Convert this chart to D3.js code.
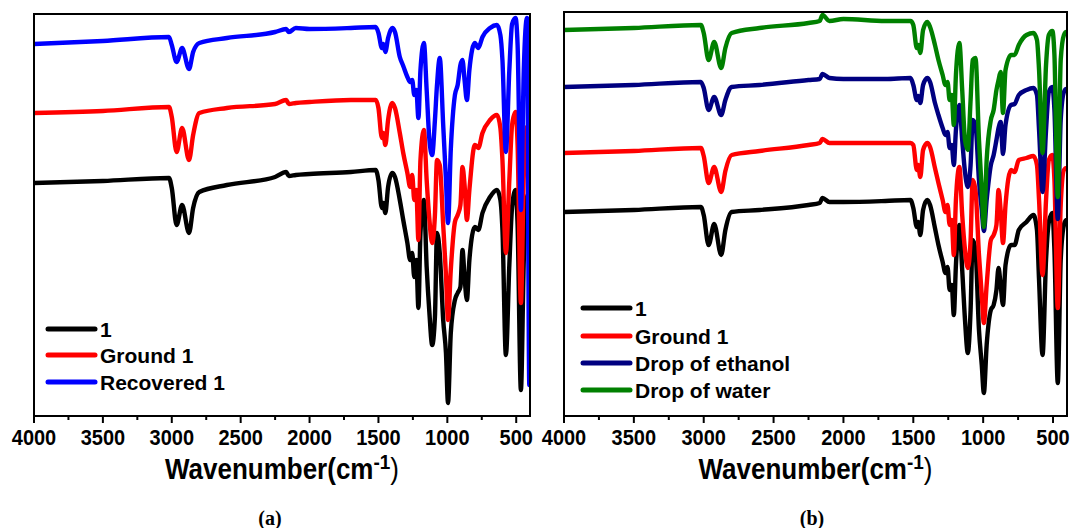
<!DOCTYPE html>
<html>
<head>
<meta charset="utf-8">
<script src="https://cdn.jsdelivr.net/npm/d3@7"></script>
<style>
  html, body { margin: 0; padding: 0; background: #fff; }
  svg { display: block; }
</style>
</head>
<body>
<svg id="chart" width="1075" height="528"></svg>
<script>
// ---- Data (wavenumber grid shared by all spectra, cm^-1) ----
const wavenumbers = [4000,3500,3020,3000,2965,2925,2875,2845,2800,2600,2250,2170,2150,2100,2000,1700,1520,1500,1475,1465,1450,1430,1400,1380,1345,1320,1290,1270,1255,1240,1225,1210,1195,1170,1150,1130,1110,1090,1075,1055,1030,1010,995,975,945,925,905,890,875,858,840,800,775,745,690,640,615,600,575,550,530,505,490,466,445,422,405,400];

// Panel (a) transmittance, stacked (a.u.)
const a_compound1 = [233,235,238,228,191,211,183,208,224,231,239,244,240,241,242,244,246,236,208,213,203,229,243,239,216,196,173,156,163,139,156,108,183,216,149,103,71,99,183,163,96,63,13,83,116,123,129,166,139,116,156,189,186,203,219,226,216,186,61,151,209,226,191,26,156,219,223,223];
const a_ground1 = [303,305,309,299,264,288,256,281,303,308,312,316,312,313,314,316,316,308,278,283,271,296,313,308,283,263,243,229,241,216,226,176,256,286,236,196,173,201,256,251,191,141,96,146,194,201,211,249,231,196,226,271,268,283,296,301,288,256,163,236,291,304,271,113,241,289,291,291];
const a_recovered1 = [372,375,379,371,354,368,347,364,373,378,384,387,384,388,387,388,389,383,368,372,364,378,388,384,359,350,339,334,336,321,326,298,346,373,326,276,261,296,331,358,291,236,193,266,321,331,351,356,336,316,346,373,368,379,388,391,381,356,264,346,392,398,371,206,346,398,31,31];

// Panel (b) transmittance, stacked (a.u.)
const b_compound1 = [204,206,209,201,171,192,161,186,204,206,211,213,218,214,214,215,216,208,189,194,181,206,216,211,188,171,154,143,149,126,131,101,151,191,146,96,63,106,176,166,86,51,23,71,106,111,126,148,131,111,151,171,171,186,194,201,186,136,61,156,194,203,166,33,156,191,196,196];
const b_ground1 = [263,265,268,260,233,249,224,245,261,265,271,273,277,273,273,273,273,271,246,251,239,266,273,269,248,233,216,204,211,191,196,161,216,249,201,166,148,176,236,226,161,121,93,131,176,181,191,226,206,173,211,246,244,256,258,260,251,216,141,216,256,261,236,108,211,246,248,248];
const b_ethanol = [329,331,334,328,306,319,301,316,329,331,336,337,342,338,337,337,338,331,316,320,313,331,338,334,313,301,288,281,284,268,271,251,286,311,276,244,229,251,296,291,236,206,185,216,251,261,276,288,294,262,291,311,312,321,326,328,321,286,224,286,324,329,306,197,296,324,327,327];
const b_water = [386,388,391,383,356,374,348,368,383,388,393,395,401,395,397,395,395,391,368,371,363,386,394,389,371,356,341,331,334,316,321,291,341,373,326,276,266,316,356,358,276,226,189,256,296,306,326,336,344,303,346,361,361,371,381,383,376,346,263,351,381,385,361,219,356,381,384,384];

const majorTicks = [4000,3500,3000,2500,2000,1500,1000,500];
const minorTicks = [3750,3250,2750,2250,1750,1250,750];
const legendA = ["1","Ground 1","Recovered 1"];
const legendB = ["1","Ground 1","Drop of ethanol","Drop of water"];
const axisTitle = "Wavenumber(cm";
const panelLabels = ["(a)","(b)"];

// ---- Layout / styles ----
const svg = d3.select("#chart");
const panels = [
  { x0:34, x1:530, y0:14, y1:416, yMax:402,
    series:[a_compound1,a_ground1,a_recovered1],
    colors:["#000000","#ff0000","#0000ff"],
    legend:legendA, legX:48, legY:[329,355,382], label:panelLabels[0], labelX:270 },
  { x0:564, x1:1067, y0:12, y1:416, yMax:404,
    series:[b_compound1,b_ground1,b_ethanol,b_water],
    colors:["#000000","#ff0000","#000080","#008000"],
    legend:legendB, legX:583, legY:[308,336,363,390], label:panelLabels[1], labelX:812 }
];

const sans = "'Liberation Sans', Arial, sans-serif";

panels.forEach((p, pi) => {
  const x = d3.scaleLinear().domain([4000,400]).range([p.x0,p.x1]);
  const y = d3.scaleLinear().domain([0,p.yMax]).range([p.y1,p.y0]);
  const g = svg.append("g");

  const clipId = "clip" + pi;
  svg.append("clipPath").attr("id", clipId)
    .append("rect").attr("x", p.x0).attr("y", p.y0)
    .attr("width", p.x1 - p.x0).attr("height", p.y1 - p.y0);

  const line = d3.line()
    .x((d,i) => x(wavenumbers[i]))
    .y(d => y(d))
    .curve(d3.curveMonotoneX);

  const traces = g.append("g").attr("clip-path", `url(#${clipId})`);
  p.series.forEach((s, si) => {
    traces.append("path")
      .attr("d", line(s))
      .attr("fill", "none")
      .attr("stroke", p.colors[si])
      .attr("stroke-width", 4.4)
      .attr("stroke-linejoin", "round")
      .attr("stroke-linecap", "round");
  });

  // frame
  g.append("rect")
    .attr("x", p.x0).attr("y", p.y0)
    .attr("width", p.x1 - p.x0).attr("height", p.y1 - p.y0)
    .attr("fill", "none").attr("stroke", "#000").attr("stroke-width", 2);

  // bottom axis
  const axis = g.append("g").attr("transform", `translate(0,${p.y1})`);
  axis.selectAll("line.major").data(majorTicks).join("line")
    .attr("x1", d => x(d)).attr("x2", d => x(d))
    .attr("y1", 0).attr("y2", 7)
    .attr("stroke", "#000").attr("stroke-width", 2);
  axis.selectAll("line.minor").data(minorTicks).join("line")
    .attr("x1", d => x(d)).attr("x2", d => x(d))
    .attr("y1", 0).attr("y2", 4)
    .attr("stroke", "#000").attr("stroke-width", 2);
  axis.selectAll("text").data(majorTicks).join("text")
    .attr("transform", d => `translate(${x(d)},28.5) scale(1,1.1)`)
    .attr("text-anchor", "middle")
    .attr("font-family", sans)
    .attr("font-weight", "bold").attr("font-size", 20)
    .text(d => d);

  // axis title
  const t = g.append("text")
    .attr("transform", `translate(${(p.x0 + p.x1) / 2},479) scale(1,1.1)`)
    .attr("text-anchor", "middle")
    .attr("font-family", sans)
    .attr("font-weight", "bold").attr("font-size", 26);
  t.append("tspan").text(axisTitle);
  t.append("tspan").attr("dy", -9).attr("font-size", 19).text("-1");
  t.append("tspan").attr("dy", 9).attr("font-weight", "normal").text(")");

  // legend
  const lg = g.append("g");
  p.legend.forEach((name, li) => {
    lg.append("line")
      .attr("x1", p.legX).attr("x2", p.legX + 47)
      .attr("y1", p.legY[li]).attr("y2", p.legY[li])
      .attr("stroke", p.colors[li]).attr("stroke-width", 5)
      .attr("stroke-linecap", "round");
    lg.append("text")
      .attr("x", p.legX + 52).attr("y", p.legY[li] + 7.5)
      .attr("font-family", sans)
      .attr("font-weight", "bold").attr("font-size", 21)
      .text(name);
  });

  // panel label
  g.append("text")
    .attr("x", p.labelX).attr("y", 525)
    .attr("text-anchor", "middle")
    .attr("font-family", "'Liberation Serif', 'Times New Roman', serif")
    .attr("font-weight", "bold").attr("font-size", 20)
    .text(p.label);
});
</script>
</body>
</html>
